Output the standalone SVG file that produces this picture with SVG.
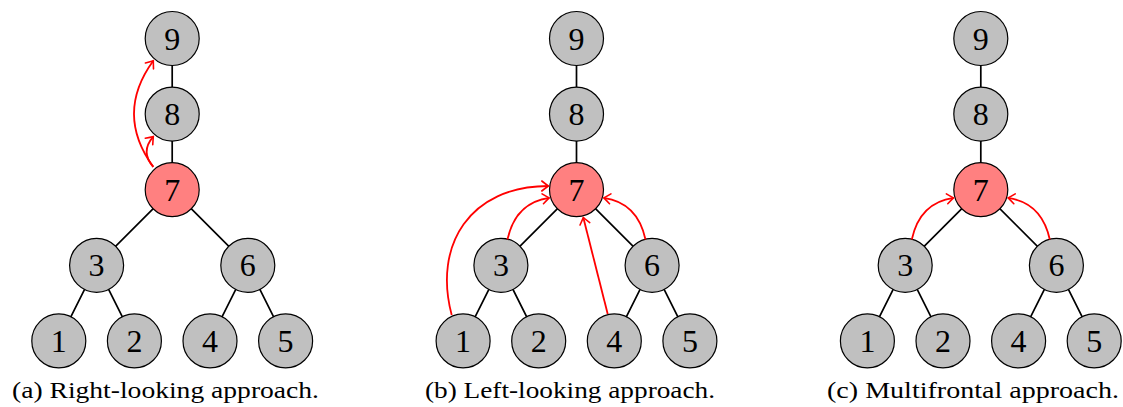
<svg xmlns="http://www.w3.org/2000/svg" width="1123" height="407" viewBox="0 0 1123 407">
<style>
.n circle{stroke:#000;stroke-width:1.2;fill:#c0c0c0}
.n.hot circle{fill:#ff8080}
.n text{font-family:"Liberation Serif","Times New Roman",serif;font-size:32px;text-anchor:middle;fill:#000}
.e{stroke:#000;stroke-width:1.7;fill:none}
.a{stroke:#ff0000;stroke-width:1.8;fill:none;marker-end:url(#ah)}
.cap{font-family:"Liberation Serif","Times New Roman",serif;font-size:24px;fill:#000}
</style>
<defs>
<marker id="ah" markerUnits="userSpaceOnUse" markerWidth="20" markerHeight="20" viewBox="-10 -10 20 20" refX="0" refY="0" orient="auto" overflow="visible">
<path d="M-6.5,-5 Q-2.2,-1.6 0,0 Q-2.2,1.6 -6.5,5" fill="none" stroke="#ff0000" stroke-width="1.6" stroke-linecap="round"/>
</marker>
</defs>
<rect width="1123" height="407" fill="#fff"/>
<g id="connectors">
<path class="e" d="M172.2,38.5V189.7M172.2,189.7L96.6,265.3M172.2,189.7L247.8,265.3M96.6,265.3L58.8,340.9M96.6,265.3L134.4,340.9M247.8,265.3L210,340.9M247.8,265.3L285.6,340.9"/>
<path class="e" d="M576.5,38.5V189.7M576.5,189.7L500.9,265.3M576.5,189.7L652.1,265.3M500.9,265.3L463.1,340.9M500.9,265.3L538.7,340.9M652.1,265.3L614.3,340.9M652.1,265.3L689.9,340.9"/>
<path class="e" d="M980.8,38.5V189.7M980.8,189.7L905.2,265.3M980.8,189.7L1056.4,265.3M905.2,265.3L867.4,340.9M905.2,265.3L943,340.9M1056.4,265.3L1018.6,340.9M1056.4,265.3L1094.2,340.9"/>
</g>
<g id="node-a9" class="n"><circle cx="172.2" cy="38.5" r="27"/><text x="172.2" y="49.5">9</text></g>
<g id="node-a8" class="n"><circle cx="172.2" cy="114.1" r="27"/><text x="172.2" y="125.1">8</text></g>
<g id="node-a7" class="n hot"><circle cx="172.2" cy="189.7" r="27"/><text x="172.2" y="200.7">7</text></g>
<g id="node-a3" class="n"><circle cx="96.6" cy="265.3" r="27"/><text x="96.6" y="276.3">3</text></g>
<g id="node-a6" class="n"><circle cx="247.8" cy="265.3" r="27"/><text x="247.8" y="276.3">6</text></g>
<g id="node-a1" class="n"><circle cx="58.8" cy="340.9" r="27"/><text x="58.8" y="351.9">1</text></g>
<g id="node-a2" class="n"><circle cx="134.4" cy="340.9" r="27"/><text x="134.4" y="351.9">2</text></g>
<g id="node-a4" class="n"><circle cx="210" cy="340.9" r="27"/><text x="210" y="351.9">4</text></g>
<g id="node-a5" class="n"><circle cx="285.6" cy="340.9" r="27"/><text x="285.6" y="351.9">5</text></g>

<g id="node-b9" class="n"><circle cx="576.5" cy="38.5" r="27"/><text x="576.5" y="49.5">9</text></g>
<g id="node-b8" class="n"><circle cx="576.5" cy="114.1" r="27"/><text x="576.5" y="125.1">8</text></g>
<g id="node-b7" class="n hot"><circle cx="576.5" cy="189.7" r="27"/><text x="576.5" y="200.7">7</text></g>
<g id="node-b3" class="n"><circle cx="500.9" cy="265.3" r="27"/><text x="500.9" y="276.3">3</text></g>
<g id="node-b6" class="n"><circle cx="652.1" cy="265.3" r="27"/><text x="652.1" y="276.3">6</text></g>
<g id="node-b1" class="n"><circle cx="463.1" cy="340.9" r="27"/><text x="463.1" y="351.9">1</text></g>
<g id="node-b2" class="n"><circle cx="538.7" cy="340.9" r="27"/><text x="538.7" y="351.9">2</text></g>
<g id="node-b4" class="n"><circle cx="614.3" cy="340.9" r="27"/><text x="614.3" y="351.9">4</text></g>
<g id="node-b5" class="n"><circle cx="689.9" cy="340.9" r="27"/><text x="689.9" y="351.9">5</text></g>

<g id="node-c9" class="n"><circle cx="980.8" cy="38.5" r="27"/><text x="980.8" y="49.5">9</text></g>
<g id="node-c8" class="n"><circle cx="980.8" cy="114.1" r="27"/><text x="980.8" y="125.1">8</text></g>
<g id="node-c7" class="n hot"><circle cx="980.8" cy="189.7" r="27"/><text x="980.8" y="200.7">7</text></g>
<g id="node-c3" class="n"><circle cx="905.2" cy="265.3" r="27"/><text x="905.2" y="276.3">3</text></g>
<g id="node-c6" class="n"><circle cx="1056.4" cy="265.3" r="27"/><text x="1056.4" y="276.3">6</text></g>
<g id="node-c1" class="n"><circle cx="867.4" cy="340.9" r="27"/><text x="867.4" y="351.9">1</text></g>
<g id="node-c2" class="n"><circle cx="943" cy="340.9" r="27"/><text x="943" y="351.9">2</text></g>
<g id="node-c4" class="n"><circle cx="1018.6" cy="340.9" r="27"/><text x="1018.6" y="351.9">4</text></g>
<g id="node-c5" class="n"><circle cx="1094.2" cy="340.9" r="27"/><text x="1094.2" y="351.9">5</text></g>

<g id="arrows">
<path class="a" d="M153.3,166.9 Q114.7,113.7 153.3,60.7"/>
<path class="a" d="M153.3,166.9 Q140,151.7 153.3,136.6"/>
<path class="a" d="M451.7,315 C433,245 470,186 548.3,186"/>
<path class="a" d="M507.5,239.5 Q515.5,202.7 549.2,197.9"/>
<path class="a" d="M645.5,239.5 Q637.5,202.7 603.8,197.9"/>
<path class="a" d="M607.7,314 L583.3,217.5"/>
<path class="a" d="M911.8,239.5 Q919.8,202.7 953.5,197.9"/>
<path class="a" d="M1049.8,239.5 Q1041.8,202.7 1008.1,197.9"/>
</g>
<text class="cap" x="12" y="398" textLength="307" lengthAdjust="spacingAndGlyphs">(a) Right-looking approach.</text>
<text class="cap" x="425" y="398" textLength="290" lengthAdjust="spacingAndGlyphs">(b) Left-looking approach.</text>
<text class="cap" x="827" y="398" textLength="292" lengthAdjust="spacingAndGlyphs">(c) Multifrontal approach.</text>
</svg>
